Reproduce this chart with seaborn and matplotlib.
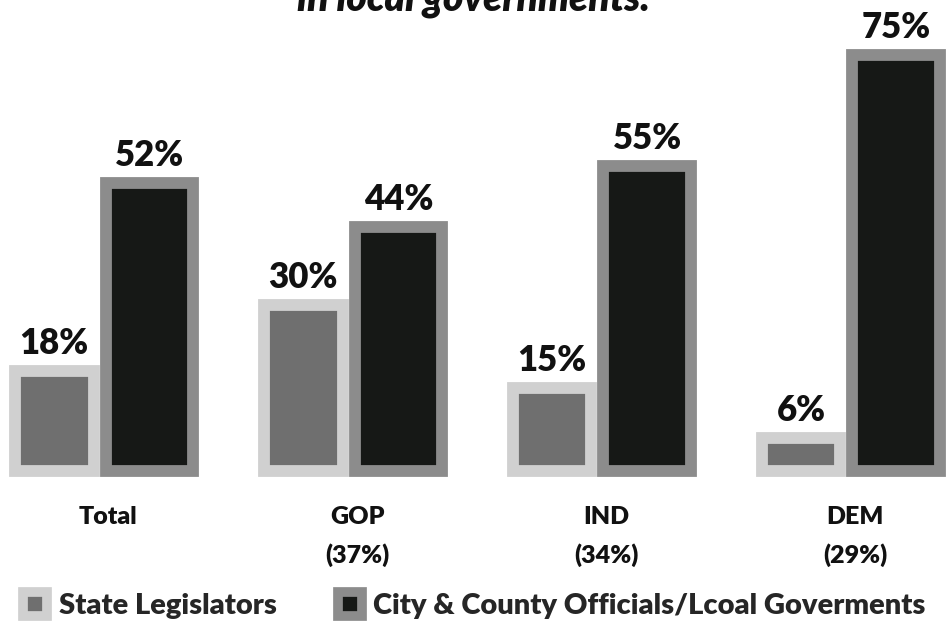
import matplotlib.pyplot as plt
import pandas as pd
import seaborn as sns
from matplotlib.lines import Line2D

groups = ["Total", "GOP", "IND", "DEM"]
group_labels = ["Total", "GOP\n(37%)", "IND\n(34%)", "DEM\n(29%)"]
series = ["State Legislators", "City & County Officials/Lcoal Goverments"]
state_vals = [18, 30, 15, 6]
local_vals = [52, 44, 55, 75]

df = pd.DataFrame({
    "group": groups * 2,
    "series": [series[0]] * 4 + [series[1]] * 4,
    "value": state_vals + local_vals,
})

fills = {series[0]: "#6f6f6f", series[1]: "#161816"}
edges = {series[0]: "#d0d0d0", series[1]: "#8c8c8c"}

sns.set_theme(style="white")
plt.rcParams["font.family"] = ["Lato", "DejaVu Sans"]

fig = plt.figure(figsize=(9.46, 6.26), dpi=100)
ax = fig.add_axes([0, 0, 1, 1])
sns.barplot(data=df, x="group", y="value", hue="series", palette=fills,
            width=0.8, gap=0.12, legend=False, ax=ax)

# thick light border around every bar, coloured per series
for k, (cont, s) in enumerate(zip(ax.containers, series)):
    for bar in cont:
        bar.set_edgecolor(edges[s])
        bar.set_linewidth(8.5)
        bar.set_joinstyle("miter")
        if k == 0:
            # state bars are a little narrower, right edge kept
            bar.set_x(bar.get_x() + 0.035)
            bar.set_width(bar.get_width() - 0.035)
    ax.bar_label(cont, labels=[f"{v:.0f}%" for v in cont.datavalues],
                 padding=8, fontsize=25, fontweight="heavy", color="#111111")

ax.set_xlim(-0.4, 3.4)
ax.set_ylim(-28.0, 85.0)
ax.axis("off")

for i, lab in enumerate(group_labels):
    ax.text(i + 0.035, -6.4, lab, ha="center", va="top", fontsize=18,
            fontweight="heavy", color="#111111", linespacing=1.75)

# title is cropped at the top edge in the original
fig.text(0.5, 1 - 10 / 626, "in local governments.", ha="center", va="baseline",
         fontsize=28, fontweight="heavy", fontstyle="italic", color="#111111")

handles = [Line2D([], [], ls="", marker="s", ms=17, mfc=fills[s], mec=edges[s], mew=7)
           for s in series]
fig.legend(handles, series, loc="center", bbox_to_anchor=(0.5, 20 / 626), ncol=2,
           frameon=False, prop={"size": 21, "weight": "heavy"}, handletextpad=0.3,
           columnspacing=2.0, handlelength=1.0)

fig.savefig("out.png", dpi=100)
